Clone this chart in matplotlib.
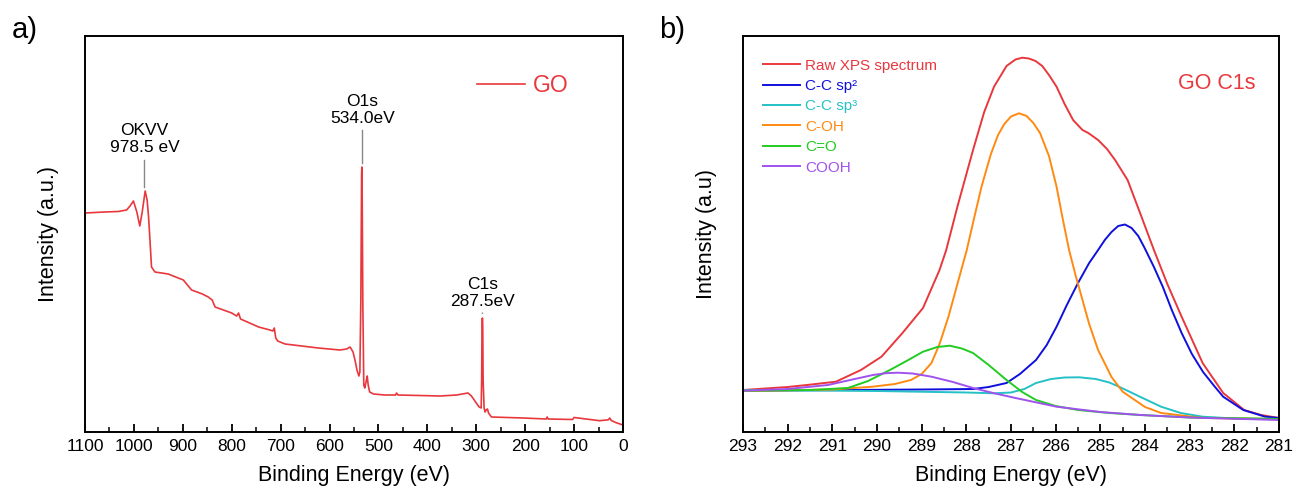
import matplotlib
matplotlib.use("Agg")
import matplotlib.pyplot as plt
from matplotlib.ticker import MultipleLocator

plt.rcParams['font.family'] = ['Liberation Sans', 'DejaVu Sans']

# ---------------- Panel a: survey spectrum -------------
survey_energy = [1100, 1060, 1032, 1015, 1008, 1001, 994, 988, 983, 977, 973, 970, 966,
                 964, 957, 930, 899, 882, 860, 848, 840, 834, 800, 790, 786, 782, 745,
                 722, 716, 713, 710, 706, 691, 623, 579, 565, 558, 552, 548, 544, 540,
                 538, 536, 534.5, 534, 533.5, 532, 530, 528, 525, 523, 521, 518, 510,
                 487, 465, 463, 460, 374, 340, 317, 310, 307, 300, 294, 290, 289, 288.2,
                 287.5, 286.8, 286, 284, 282, 280, 277, 275, 269, 204, 157, 155, 153,
                 103, 100, 48, 30, 27, 24, 14, 0]
survey_intensity = [219, 220, 220.5, 222, 226, 231, 220, 206, 220, 241, 232, 215, 182,
                    165, 160, 158, 152, 142, 138, 135, 132, 125, 119, 116, 119, 113, 105,
                    102, 101, 104, 94, 91, 88, 84, 82, 83, 85, 80, 72, 62, 56,
                    60, 132, 257, 265, 257, 132, 47, 44, 51, 56, 47, 40, 38,
                    37, 37, 39, 37, 36, 37, 39, 36, 34, 29, 25, 24, 52, 107,
                    114, 107, 52, 24, 20, 22, 23, 19, 15, 14, 13, 15, 13,
                    12.5, 14.5, 11.3, 12.2, 14, 11.5, 9.3, 7]

peak_labels = ["OKVV\n978.5 eV", "O1s\n534.0eV", "C1s\n287.5eV"]
peak_positions = [978.5, 533, 287.5]

# ---------------- Panel b: C1s high-resolution fit -----------------
raw_e = [293.0, 292.0, 291.57, 290.92, 290.36, 289.9, 289.43, 288.97, 288.6, 288.45,
         288.2, 287.85, 287.6, 287.38, 287.1, 286.9, 286.75, 286.6, 286.45, 286.3, 286.15,
         285.98, 285.8, 285.61, 285.4, 285.27, 285.05, 284.85, 284.67, 284.39, 284.11,
         283.8, 283.5, 283.18, 282.71, 282.25, 281.78, 281.4, 281.0]
raw_i = [42, 45, 47, 50.3, 62, 75.3, 99, 124, 162, 182,
         225.3, 282, 320, 345.3, 366, 372.5, 374.3, 373.5, 371, 366, 357,
         345.3, 328, 312, 302, 299, 292, 283, 272, 252, 219,
         182, 148, 115.3, 69, 39, 22, 17, 14]

sp2_e = [293.0, 289.0, 287.85, 287.5, 287.1, 286.8, 286.44, 286.2, 285.98, 285.75, 285.5,
         285.25, 285.05, 284.9, 284.75, 284.6, 284.45, 284.3, 284.15, 284.02, 283.8, 283.6,
         283.4, 283.18, 282.95, 282.7, 282.45, 282.25, 281.8, 281.31, 281.0]
sp2_i = [41.3, 42.5, 43, 45, 49, 58, 72, 87, 105.3, 127, 149,
         169, 182, 192, 200, 206, 207.5, 204, 196, 185, 165, 145,
         122, 99, 78, 60, 46, 35.3, 22, 15.3, 14]

sp3_e = [293.0, 290.0, 288.0, 287.38, 287.0, 286.7, 286.44, 286.1, 285.8, 285.47, 285.1,
         284.8, 284.58, 284.1, 283.64, 283.2, 282.71, 282.0, 281.0]
sp3_i = [42, 41, 39.5, 38.7, 39.5, 43, 49, 53, 54.5, 54.7, 53,
         49.5, 45.3, 35, 25.3, 19, 15.3, 13.5, 13]

coh_e = [293.0, 291.0, 290.1, 289.6, 289.24, 289.0, 288.78, 288.6, 288.4, 288.2, 287.99,
         287.82, 287.66, 287.45, 287.29, 287.15, 287.0, 286.82, 286.65, 286.5, 286.35,
         286.15, 285.98, 285.85, 285.7, 285.55, 285.42, 285.25, 285.05, 284.75, 284.5,
         284.0, 283.64, 282.7, 281.0]
coh_i = [41, 42.5, 45.3, 48, 52, 58, 69, 88, 115.3, 148, 182,
         215, 245.3, 278, 297, 308, 315.5, 318.7, 316, 309, 299,
         276, 245.3, 215, 182, 156, 135.3, 108, 82, 55, 40.3,
         25, 19, 14, 13]

co_e = [293.0, 291.5, 290.65, 290.2, 289.71, 289.3, 288.97, 288.65, 288.37, 288.1, 287.85,
        287.5, 287.1, 286.75, 286.44, 286.0, 285.5, 284.8, 284.1, 283.0, 281.0]
co_i = [41.3, 42, 44, 51, 62, 72, 80.3, 85, 86.3, 83.5, 79,
        67, 52, 40, 32, 26, 22, 19, 17, 14.5, 13]

cooh_e = [293.0, 292.0, 291.1, 290.6, 290.09, 289.8, 289.53, 289.2, 288.78, 288.3, 287.85,
          287.4, 286.9, 285.98, 285.0, 284.1, 283.0, 281.0]
cooh_i = [41.3, 43, 47, 52, 57, 58.8, 59.3, 58.5, 55.3, 50, 44,
          39, 34, 25.3, 20, 17, 14.5, 12]

fit_labels = ['Raw XPS spectrum', 'C-C sp\u00b2', 'C-C sp\u00b3', 'C-OH', 'C=O', 'COOH']
fit_colors = ['#e8383d', '#1010dc', '#25c1c6', '#ff8a12', '#22cc22', '#a052ef']

# ---------------- Figure -----------------
W, H = 1294, 492
fig = plt.figure(figsize=(W / 100, H / 100), dpi=100)
ax1 = fig.add_axes([85 / W, (H - 432) / H, 538 / W, 396 / H])
ax2 = fig.add_axes([743 / W, (H - 432) / H, 536 / W, 396 / H])

tick_fs = 12.5
for ax in (ax1, ax2):
    for s in ax.spines.values():
        s.set_linewidth(1.4)
    ax.set_yticks([])
    ax.tick_params(axis='x', which='major', direction='in', length=6, width=1.3,
                   labelsize=tick_fs, pad=5, top=False)
    ax.tick_params(axis='x', which='minor', direction='in', length=3.5, width=1.1, top=False)
    ax.set_ylim(0, 396)

# Panel a
ax1.plot(survey_energy, survey_intensity, color='#e8383d', lw=1.2, label='GO')
ax1.set_xlim(1100, 0)
ax1.xaxis.set_major_locator(MultipleLocator(100))
ax1.xaxis.set_minor_locator(MultipleLocator(50))
ax1.set_xlabel('Binding Energy (eV)', fontsize=15.5, labelpad=8)
ax1.set_ylabel('Intensity (a.u.)', fontsize=15.5, labelpad=19)

label_y = [277, 306, 123]
line_spans = [(272, 245), (302, 269), (120, 117)]
for lab, x, ty, (y0, y1) in zip(peak_labels, peak_positions, label_y, line_spans):
    ax1.text(x, ty, lab, ha='center', va='bottom', fontsize=12.5, linespacing=1.15)
    ax1.plot([x, x], [y0, y1], color='#888888', lw=1.0,
             ls='-' if y0 - y1 > 5 else ':')

ax1.legend(loc='center left', bbox_to_anchor=(0.7286, 0.876), frameon=False,
           fontsize=16.5, handlelength=2.1, handletextpad=0.35,
           borderaxespad=0, borderpad=0, labelcolor='linecolor')

# Panel b
series_e = [raw_e, sp2_e, sp3_e, coh_e, co_e, cooh_e]
series_i = [raw_i, sp2_i, sp3_i, coh_i, co_i, cooh_i]
for e, i, lab, c in zip(series_e, series_i, fit_labels, fit_colors):
    ax2.plot(e, i, color=c, lw=1.4, label=lab)
ax2.set_xlim(293, 281)
ax2.xaxis.set_major_locator(MultipleLocator(1))
ax2.xaxis.set_minor_locator(MultipleLocator(0.5))
ax2.set_xlabel('Binding Energy (eV)', fontsize=15.5, labelpad=8)
ax2.set_ylabel('Intensity (a.u)', fontsize=15.5, labelpad=19)
ax2.legend(loc='upper left', bbox_to_anchor=(0.0373, 0.943), frameon=False,
           fontsize=11, handlelength=2.4, handletextpad=0.35, labelspacing=0.42,
           borderaxespad=0, borderpad=0, labelcolor='linecolor')
ax2.text(0.884, 0.881, 'GO C1s', transform=ax2.transAxes, ha='center', va='center',
         fontsize=15.5, color='#e8383d')

fig.text(12 / W, 1 - 30 / H, 'a)', fontsize=21, ha='left', va='center')
fig.text(659 / W, 1 - 30 / H, 'b)', fontsize=21, ha='left', va='center')

fig.savefig('out.png', dpi=100)
